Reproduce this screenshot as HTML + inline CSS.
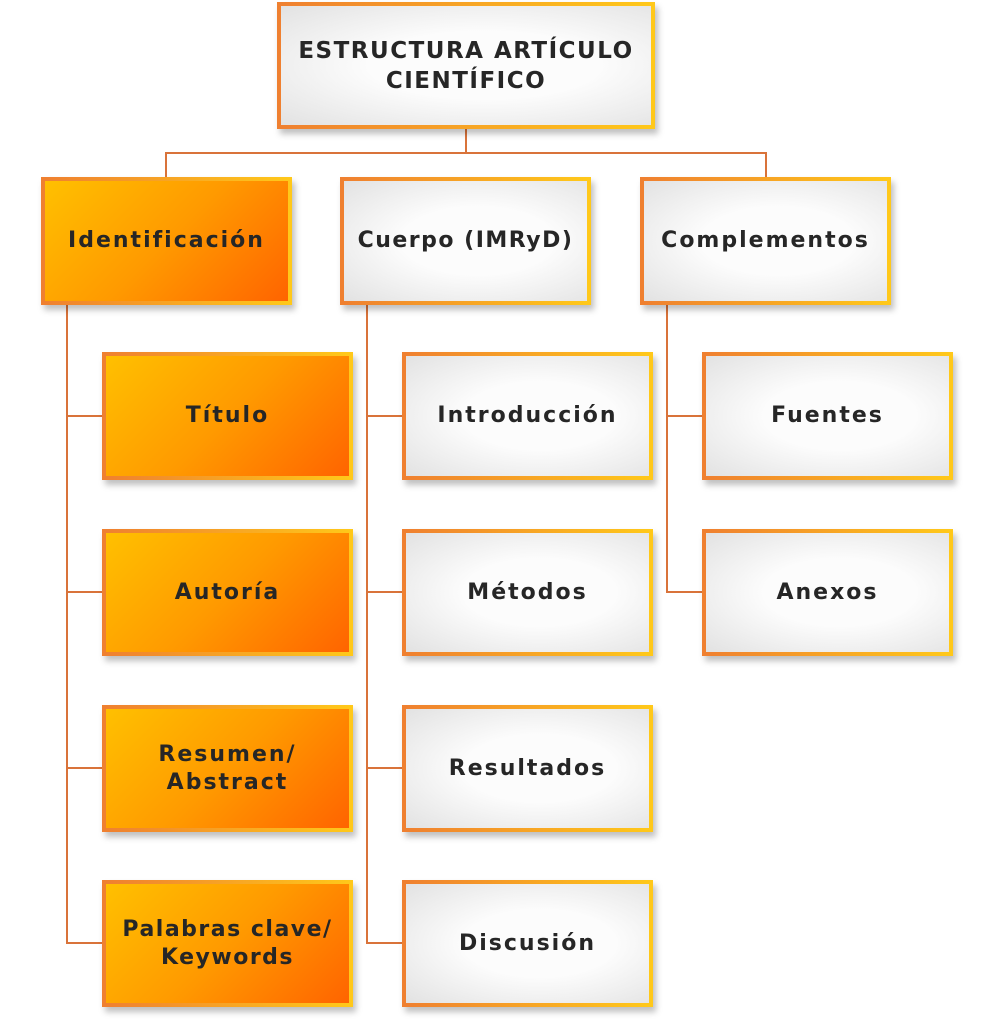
<!DOCTYPE html>
<html><head><meta charset="utf-8"><style>
body{margin:0;width:993px;height:1024px;background:#fff;position:relative;overflow:hidden;font-family:"DejaVu Sans","Liberation Sans",sans-serif;}
.b{position:absolute;box-sizing:border-box;border:4px solid;border-image:linear-gradient(90deg,#ef8030,#ffc81a) 1;display:flex;align-items:center;justify-content:center;text-align:center;font-weight:bold;color:#262626;font-size:22px;letter-spacing:2px;line-height:28px;box-shadow:3px 5px 6px rgba(0,0,0,0.25);}
.g{background:radial-gradient(ellipse at 55% 50%,#fcfcfc 40%,#e2e2e2 100%);}
.o{background:linear-gradient(135deg,#ffc000 0%,#ff9a00 50%,#ff6400 100%);}
.l{position:absolute;background:#d9733a;}
</style></head><body>
<div class="l" style="left:465px;top:126px;width:2px;height:28px"></div>
<div class="l" style="left:165px;top:152px;width:602px;height:2px"></div>
<div class="l" style="left:165px;top:152px;width:2px;height:27px"></div>
<div class="l" style="left:765px;top:152px;width:2px;height:27px"></div>
<div class="l" style="left:66px;top:302px;width:2px;height:642px"></div>
<div class="l" style="left:366px;top:302px;width:2px;height:642px"></div>
<div class="l" style="left:666px;top:302px;width:2px;height:291px"></div>
<div class="l" style="left:66px;top:415px;width:38px;height:2px"></div>
<div class="l" style="left:66px;top:591px;width:38px;height:2px"></div>
<div class="l" style="left:66px;top:767px;width:38px;height:2px"></div>
<div class="l" style="left:66px;top:942px;width:38px;height:2px"></div>
<div class="l" style="left:366px;top:415px;width:38px;height:2px"></div>
<div class="l" style="left:366px;top:591px;width:38px;height:2px"></div>
<div class="l" style="left:366px;top:767px;width:38px;height:2px"></div>
<div class="l" style="left:366px;top:942px;width:38px;height:2px"></div>
<div class="l" style="left:666px;top:415px;width:38px;height:2px"></div>
<div class="l" style="left:666px;top:591px;width:38px;height:2px"></div>

<div class="b g" style="left:277px;top:2px;width:378px;height:127px;font-size:23px;line-height:30px;letter-spacing:1.5px">ESTRUCTURA ARTÍCULO<br>CIENTÍFICO</div>
<div class="b o" style="left:41px;top:177px;width:251px;height:128px">Identificación</div>
<div class="b g" style="left:340px;top:177px;width:251px;height:128px;letter-spacing:1.5px">Cuerpo (IMRyD)</div>
<div class="b g" style="left:640px;top:177px;width:251px;height:128px">Complementos</div>

<div class="b o" style="left:102px;top:352px;width:251px;height:128px">Título</div>
<div class="b o" style="left:102px;top:529px;width:251px;height:127px">Autoría</div>
<div class="b o" style="left:102px;top:705px;width:251px;height:127px">Resumen/<br>Abstract</div>
<div class="b o" style="left:102px;top:880px;width:251px;height:127px;letter-spacing:1.5px">Palabras clave/<br>Keywords</div>

<div class="b g" style="left:402px;top:352px;width:251px;height:128px">Introducción</div>
<div class="b g" style="left:402px;top:529px;width:251px;height:127px">Métodos</div>
<div class="b g" style="left:402px;top:705px;width:251px;height:127px">Resultados</div>
<div class="b g" style="left:402px;top:880px;width:251px;height:127px">Discusión</div>

<div class="b g" style="left:702px;top:352px;width:251px;height:128px">Fuentes</div>
<div class="b g" style="left:702px;top:529px;width:251px;height:127px">Anexos</div>
</body></html>
